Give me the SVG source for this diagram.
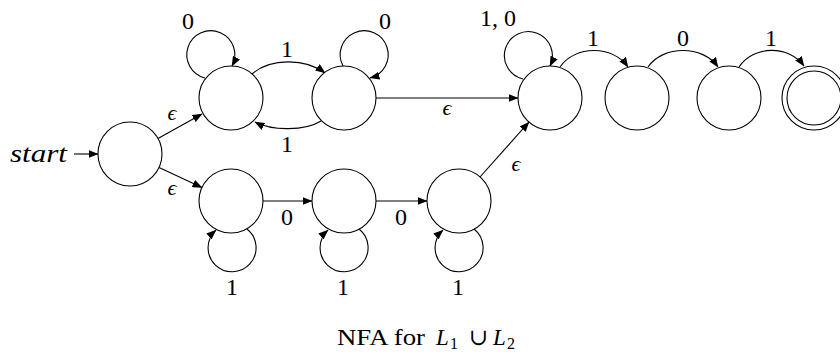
<svg xmlns="http://www.w3.org/2000/svg" width="840" height="356" viewBox="0 0 840 356">
<style>
.st{fill:#fff;stroke:#000;stroke-width:1.1}
.ed{fill:none;stroke:#000;stroke-width:1.1;marker-end:url(#ah)}
.lb{font-family:"Liberation Serif","DejaVu Serif",serif;font-size:24px;fill:#000;text-anchor:middle}
.ep{font-family:"Liberation Serif","DejaVu Serif",serif;font-size:22px;font-style:italic;fill:#000;text-anchor:middle}
.cap{font-family:"Liberation Serif","DejaVu Serif",serif;font-size:23px;fill:#000}
</style>
<defs>
<marker id="ah" markerUnits="userSpaceOnUse" markerWidth="10" markerHeight="8" refX="9.5" refY="4" orient="auto">
<path d="M0,0 L10,4 L0,8 Z" fill="#000"/>
</marker>
</defs>
<rect width="840" height="356" fill="#fff"/>
<g id="connectors">
<path class="ed" d="M74,154 L98,154"/>
<path class="ed" d="M158,138.5 L202,114"/>
<path class="ed" d="M159,167.5 L202,187.5"/>
<path class="ed" d="M252,74 C270,58 305,58 325,73"/>
<path class="ed" d="M321,121 C305,131 272,131 255,122"/>
<path class="ed" d="M205,78 A24,24 0 1,1 232,66"/>
<path class="ed" d="M343,66 A24,24 0 1,1 370,78"/>
<path class="ed" d="M523,79 A24,24 0 1,1 550,66"/>
<path class="ed" d="M376,98 L518,98"/>
<path class="ed" d="M480,177 L529,122"/>
<path class="ed" d="M560,67 C575,45 613,45 628,67"/>
<path class="ed" d="M648,67 C663,45 703,45 718,67"/>
<path class="ed" d="M739,67 C754,45 789,45 804,66"/>
<path class="ed" d="M263,201 L312,201"/>
<path class="ed" d="M376,201 L427,201"/>
<path class="ed" d="M247,229 A24,24 0 1,1 216,230"/>
<path class="ed" d="M359,229 A24,24 0 1,1 328,230"/>
<path class="ed" d="M474,229 A24,24 0 1,1 443,230"/>
</g>
<g id="labels">
<text x="10" y="162" font-family="Liberation Serif,serif" font-size="25" font-style="italic" textLength="57" lengthAdjust="spacingAndGlyphs">start</text>
<text class="lb" x="188" y="29">0</text>
<text class="lb" x="385" y="29">0</text>
<text class="lb" x="287" y="57">1</text>
<text class="lb" x="287" y="152">1</text>
<text class="ep" x="172" y="120">ϵ</text>
<text class="ep" x="172" y="195">ϵ</text>
<text class="ep" x="447" y="115">ϵ</text>
<text class="ep" x="516" y="171">ϵ</text>
<text class="lb" x="498" y="26">1, 0</text>
<text class="lb" x="593" y="46">1</text>
<text class="lb" x="683" y="46">0</text>
<text class="lb" x="771" y="46">1</text>
<text class="lb" x="287" y="225">0</text>
<text class="lb" x="401" y="225">0</text>
<text class="lb" x="232" y="295">1</text>
<text class="lb" x="343" y="295">1</text>
<text class="lb" x="458" y="295">1</text>
</g>
<g id="q_start"><circle class="st" cx="130" cy="154" r="32"/></g>
<g id="q_a"><circle class="st" cx="231" cy="98" r="32"/></g>
<g id="q_b"><circle class="st" cx="344" cy="98" r="32"/></g>
<g id="q_c"><circle class="st" cx="550" cy="98" r="32"/></g>
<g id="q_d"><circle class="st" cx="637" cy="98" r="32"/></g>
<g id="q_e"><circle class="st" cx="729" cy="98" r="32"/></g>
<g id="q_f"><circle class="st" cx="814" cy="98" r="32"/><circle class="st" cx="814" cy="98" r="27"/></g>
<g id="q_g"><circle class="st" cx="231" cy="201" r="32"/></g>
<g id="q_h"><circle class="st" cx="344" cy="201" r="32"/></g>
<g id="q_i"><circle class="st" cx="459" cy="201" r="32"/></g>
<g id="caption">
<text class="cap" x="337" y="345" textLength="88" lengthAdjust="spacingAndGlyphs">NFA for</text>
<text class="cap" y="345"><tspan x="436" font-style="italic">L</tspan><tspan x="450" dy="4" font-size="16">1</tspan><tspan x="469" dy="-4">∪</tspan><tspan x="493" font-style="italic">L</tspan><tspan x="507" dy="4" font-size="16">2</tspan></text>
</g>
</svg>
